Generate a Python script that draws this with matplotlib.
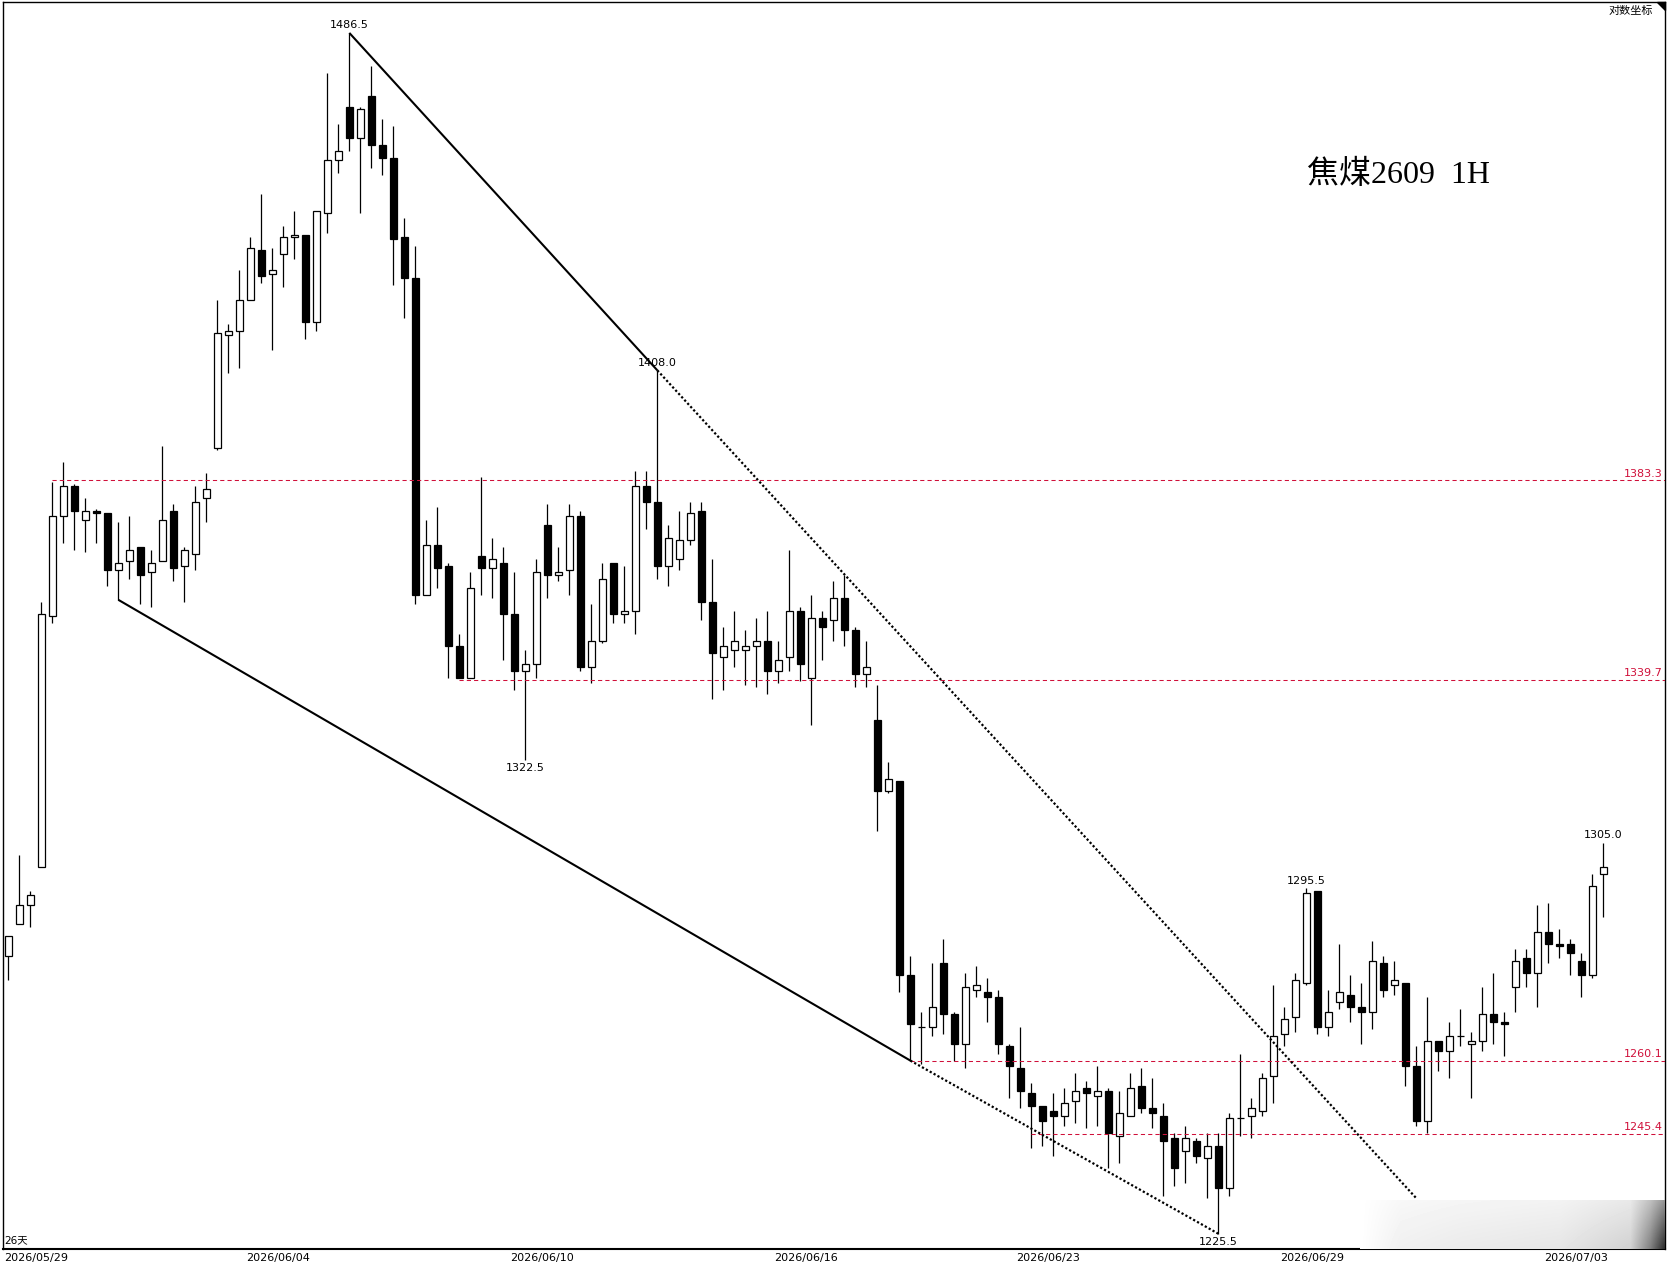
import numpy as np
import matplotlib
matplotlib.use("Agg")
import matplotlib.pyplot as plt
from matplotlib.patches import Polygon
from matplotlib.ticker import NullLocator

# ---------------- data (hourly OHLC) ----------------
opens = [1281.5, 1288.0, 1292.0, 1300.0, 1353.5, 1375.5, 1382.0, 1374.5, 1376.5, 1376.0,
         1363.5, 1365.5, 1368.5, 1363.0, 1365.5, 1376.5, 1364.5, 1367.0, 1379.5, 1390.5,
         1416.0, 1417.0, 1424.0, 1435.5, 1430.0, 1434.5, 1438.5, 1439.0, 1419.0, 1444.0,
         1456.5, 1469.0, 1461.5, 1471.5, 1460.0, 1457.0, 1438.5, 1429.0, 1358.0, 1369.0,
         1364.5, 1347.0, 1340.0, 1366.5, 1364.0, 1365.0, 1354.0, 1341.5, 1343.0, 1373.5,
         1362.5, 1363.5, 1375.5, 1342.5, 1348.0, 1365.0, 1354.0, 1354.5, 1382.0, 1378.5,
         1364.5, 1366.0, 1370.0, 1376.5, 1356.5, 1344.5, 1346.0, 1346.0, 1347.0, 1348.0,
         1341.5, 1344.5, 1354.5, 1340.0, 1353.0, 1352.5, 1357.5, 1350.5, 1341.0, 1331.0,
         1316.0, 1318.0, 1277.5, 1267.0, 1267.0, 1280.0, 1269.5, 1263.5, 1274.5, 1274.0,
         1273.0, 1263.0, 1258.5, 1253.5, 1251.0, 1250.0, 1249.0, 1252.0, 1254.5, 1253.0,
         1254.0, 1245.0, 1249.0, 1255.0, 1250.5, 1249.0, 1244.5, 1242.0, 1244.0, 1240.5,
         1243.0, 1234.5, 1248.5, 1249.0, 1250.0, 1257.0, 1265.5, 1269.0, 1276.0, 1295.0,
         1267.0, 1272.0, 1273.5, 1271.0, 1270.0, 1280.0, 1275.5, 1276.0, 1259.0, 1248.0,
         1264.0, 1262.0, 1265.0, 1263.5, 1264.0, 1269.5, 1268.0, 1275.0, 1281.0, 1278.0,
         1286.5, 1284.0, 1284.0, 1280.5, 1277.5, 1298.5]
highs = [1285.5, 1302.5, 1295.0, 1356.5, 1383.0, 1387.5, 1382.5, 1379.5, 1377.0, 1376.0,
         1374.0, 1375.5, 1368.5, 1368.0, 1391.0, 1378.0, 1368.5, 1382.0, 1385.0, 1424.0,
         1418.5, 1431.0, 1438.5, 1448.5, 1436.0, 1441.0, 1444.5, 1439.0, 1444.5, 1477.0,
         1465.0, 1486.5, 1469.0, 1478.5, 1466.0, 1464.5, 1443.0, 1436.5, 1374.5, 1377.5,
         1365.0, 1349.5, 1363.0, 1384.0, 1370.5, 1368.5, 1363.0, 1346.0, 1366.0, 1378.0,
         1368.5, 1378.0, 1376.5, 1356.0, 1365.0, 1365.0, 1364.5, 1385.5, 1385.5, 1408.0,
         1373.5, 1376.5, 1378.5, 1378.5, 1366.0, 1351.0, 1354.5, 1350.5, 1353.0, 1354.5,
         1348.0, 1368.0, 1355.5, 1358.0, 1354.5, 1361.0, 1362.5, 1351.0, 1348.0, 1338.5,
         1322.0, 1318.0, 1281.5, 1270.0, 1280.0, 1285.0, 1270.0, 1278.0, 1279.5, 1277.0,
         1274.5, 1263.5, 1267.0, 1255.5, 1251.0, 1253.5, 1254.5, 1257.5, 1256.0, 1259.0,
         1254.5, 1254.0, 1257.5, 1258.5, 1256.5, 1251.5, 1245.5, 1247.0, 1244.5, 1245.5,
         1245.5, 1249.5, 1261.5, 1252.5, 1257.5, 1275.5, 1271.0, 1278.0, 1295.5, 1295.0,
         1274.5, 1284.0, 1277.5, 1276.0, 1284.5, 1281.5, 1280.5, 1276.0, 1263.0, 1273.0,
         1264.0, 1268.0, 1270.5, 1266.0, 1275.0, 1278.0, 1270.0, 1283.0, 1283.0, 1292.0,
         1292.5, 1287.0, 1285.0, 1282.0, 1298.5, 1305.0]
lows = [1276.5, 1288.0, 1287.5, 1300.0, 1352.0, 1369.5, 1368.0, 1367.5, 1369.5, 1360.0,
        1357.0, 1361.5, 1356.0, 1355.5, 1365.5, 1361.0, 1356.5, 1363.5, 1374.0, 1390.0,
        1407.5, 1408.5, 1424.0, 1428.0, 1412.5, 1427.0, 1433.5, 1415.0, 1417.0, 1439.5,
        1453.5, 1458.5, 1444.0, 1454.5, 1453.0, 1427.5, 1420.0, 1356.0, 1358.0, 1359.5,
        1340.0, 1340.0, 1340.0, 1358.0, 1357.5, 1344.0, 1337.5, 1322.5, 1340.0, 1357.5,
        1361.0, 1358.0, 1341.5, 1339.0, 1347.5, 1352.0, 1352.0, 1349.5, 1372.5, 1361.5,
        1360.0, 1363.5, 1369.0, 1352.5, 1335.5, 1337.5, 1342.5, 1338.5, 1338.0, 1336.5,
        1339.0, 1341.5, 1339.5, 1330.0, 1344.0, 1348.0, 1347.0, 1338.0, 1338.0, 1307.5,
        1315.5, 1274.0, 1260.0, 1259.5, 1265.0, 1265.5, 1260.0, 1258.5, 1273.0, 1268.0,
        1261.5, 1252.5, 1250.5, 1242.5, 1243.0, 1241.0, 1247.0, 1247.5, 1246.5, 1247.0,
        1238.5, 1239.5, 1249.0, 1249.5, 1246.5, 1233.0, 1235.0, 1235.5, 1239.5, 1232.5,
        1225.5, 1233.0, 1245.0, 1244.5, 1249.0, 1251.5, 1263.0, 1266.0, 1275.5, 1265.5,
        1265.0, 1270.5, 1268.0, 1263.5, 1266.5, 1273.0, 1273.5, 1255.0, 1247.0, 1245.5,
        1258.0, 1256.5, 1263.0, 1252.5, 1262.0, 1263.5, 1261.0, 1270.0, 1275.0, 1271.0,
        1280.0, 1281.0, 1277.5, 1273.0, 1277.0, 1289.5]
closes = [1285.5, 1292.0, 1294.0, 1354.0, 1375.5, 1382.0, 1376.5, 1376.5, 1376.0, 1363.5,
          1365.0, 1368.0, 1362.5, 1365.0, 1374.5, 1364.0, 1368.0, 1378.5, 1381.5, 1416.5,
          1417.0, 1424.0, 1436.0, 1429.5, 1431.0, 1438.5, 1439.0, 1419.0, 1444.5, 1456.5,
          1458.5, 1461.5, 1468.5, 1460.0, 1457.0, 1438.0, 1429.0, 1358.0, 1369.0, 1364.0,
          1347.0, 1340.0, 1359.5, 1364.0, 1366.0, 1354.0, 1341.5, 1343.0, 1363.0, 1362.5,
          1363.0, 1375.5, 1342.5, 1348.0, 1361.5, 1354.0, 1354.5, 1382.0, 1378.5, 1364.5,
          1370.5, 1370.0, 1376.0, 1356.5, 1345.5, 1347.0, 1348.0, 1347.0, 1348.0, 1341.5,
          1344.0, 1354.5, 1343.0, 1353.0, 1351.0, 1357.5, 1350.5, 1341.0, 1342.5, 1316.0,
          1318.5, 1277.5, 1267.5, 1267.0, 1271.0, 1269.5, 1263.5, 1275.0, 1275.5, 1273.0,
          1263.5, 1259.0, 1254.0, 1251.0, 1248.0, 1249.0, 1251.5, 1254.0, 1253.5, 1254.0,
          1245.5, 1249.5, 1254.5, 1250.5, 1249.5, 1244.0, 1238.5, 1244.5, 1241.0, 1243.0,
          1234.5, 1248.5, 1248.5, 1250.5, 1256.5, 1265.0, 1268.5, 1276.5, 1294.5, 1267.0,
          1270.0, 1274.0, 1271.0, 1270.0, 1280.5, 1274.5, 1276.5, 1259.0, 1248.0, 1264.0,
          1262.0, 1265.0, 1265.0, 1264.0, 1269.5, 1268.0, 1267.5, 1280.5, 1278.0, 1286.5,
          1284.0, 1283.5, 1282.0, 1277.5, 1296.0, 1300.0]

date_labels = ["2026/05/29", "2026/06/04", "2026/06/10", "2026/06/16",
               "2026/06/23", "2026/06/29", "2026/07/03"]
date_index = [0, 22, 46, 70, 92, 116, 140]

level_values = [1383.3, 1339.7, 1260.1, 1245.4]
level_start = [4, 41, 82, 93]

upper_line_x = [31, 59, 128]
upper_line_y = [1486.5, 1408.0, 1232.5]
lower_line_x = [10, 82, 110]
lower_line_y = [1357.0, 1260.1, 1225.5]

mark_index = [31, 59, 47, 110, 118, 145]
mark_kind = ["high", "high", "low", "low", "high", "high"]

title_text = "焦煤2609  1H"
scale_text = "对数坐标"
days_text = "26天"

# ---------------- figure ----------------
W, H = 1667, 1269
plt.rcParams['font.family'] = ['DejaVu Sans', 'Noto Sans CJK SC']
fig = plt.figure(figsize=(W / 100, H / 100), dpi=100)
fig.patch.set_facecolor('white')
ax = fig.add_axes([3 / W, 20 / H, (1665 - 3) / W, (1249 - 2) / H])
ax.set_yscale('log')

o = np.array(opens); c = np.array(closes)
hi = np.array(highs); lo = np.array(lows)
x = np.arange(len(o))
up = c >= o
bottom = np.minimum(o, c)
height = np.abs(c - o)

ax.vlines(x, lo, hi, color='black', lw=0.9, zorder=2)
ax.bar(x[up], height[up], bottom=bottom[up], width=0.64,
       facecolor='white', edgecolor='black', linewidth=0.9, zorder=3)
ax.bar(x[~up], height[~up], bottom=bottom[~up], width=0.64,
       facecolor='black', edgecolor='black', linewidth=0.9, zorder=3)

# level lines
red = '#D0103A'
xmax = 150.6
for v, s in zip(level_values, level_start):
    ax.plot([s, xmax], [v, v], color=red, lw=0.75, ls=(0, (4, 3)), zorder=4)
    ax.annotate(f"{v:.1f}", xy=(0.9988, v), xycoords=('axes fraction', 'data'),
                xytext=(0, 1), textcoords='offset points', ha='right', va='bottom',
                color=red, fontsize=8)

# trend lines
ax.plot(upper_line_x[:2], upper_line_y[:2], color='black', lw=1.5, zorder=5,
        solid_capstyle='butt')
ax.plot(upper_line_x[1:], upper_line_y[1:], color='black', lw=1.6, ls=(0, (1, 1)), zorder=5)
ax.plot(lower_line_x[:2], lower_line_y[:2], color='black', lw=1.5, zorder=5,
        solid_capstyle='butt')
ax.plot(lower_line_x[1:], lower_line_y[1:], color='black', lw=1.6, ls=(0, (1, 1)), zorder=5)

# extreme value labels
for i, k in zip(mark_index, mark_kind):
    if k == "high":
        ax.annotate(f"{highs[i]:.1f}", xy=(i, highs[i]), xytext=(0, 5.4),
                    textcoords='offset points', ha='center', va='center', fontsize=8)
    else:
        ax.annotate(f"{lows[i]:.1f}", xy=(i, lows[i]), xytext=(0, -5.6),
                    textcoords='offset points', ha='center', va='center', fontsize=8)

# date labels
for lab, i in zip(date_labels, date_index):
    ax.annotate(lab, xy=(i - 0.4, 0), xycoords=('data', 'axes fraction'),
                xytext=(0, -3), textcoords='offset points', ha='left', va='top',
                fontsize=8, annotation_clip=False)

ax.set_xlim(-0.482, xmax)
ax.set_ylim(1222.5, 1493.9)
ax.set_xticks([]); ax.set_yticks([])
ax.yaxis.set_minor_locator(NullLocator())
ax.xaxis.set_minor_locator(NullLocator())
for sp in ax.spines.values():
    sp.set_color('black'); sp.set_linewidth(1.0)
ax.spines['bottom'].set_linewidth(1.5)

# corner triangle
ax.add_patch(Polygon([[1 - 8 / 1662, 1], [1, 1], [1, 1 - 8 / 1247]], closed=True,
                     transform=ax.transAxes, color='black', clip_on=False, zorder=6))

# texts
fig.text(1307 / W, 1 - 175 / H, title_text, ha='left', va='center', fontsize=23,
         family=['Liberation Serif', 'Noto Sans CJK SC'])
fig.text(1653 / W, 1 - 11 / H, scale_text, ha='right', va='center', fontsize=8,
         family=['Noto Sans CJK SC', 'DejaVu Sans'])
fig.text(4 / W, 1 - 1240 / H, days_text, ha='left', va='center', fontsize=7.5,
         family=['DejaVu Sans', 'Noto Sans CJK SC'])

# faint watermark strip at bottom right
wx0, wx1, wy0, wy1 = 1360, 1665, 1200, 1249
wax = fig.add_axes([wx0 / W, (H - wy1) / H, (wx1 - wx0) / W, (wy1 - wy0) / H])
wax.axis('off')
xs = np.arange(wx1 - wx0)
g = np.interp(xs, [0, 40, 100, 200, 270, 290, 305], [1.0, 0.94, 0.92, 0.90, 0.82, 0.5, 0.15])
v = np.linspace(0.5, 1.0, wy1 - wy0)[:, None]
img = 1 - (1 - g[None, :]) * v
wax.imshow(img, cmap='gray', vmin=0, vmax=1, aspect='auto', interpolation='bilinear')

fig.savefig('out.png', dpi=100, facecolor='white')
